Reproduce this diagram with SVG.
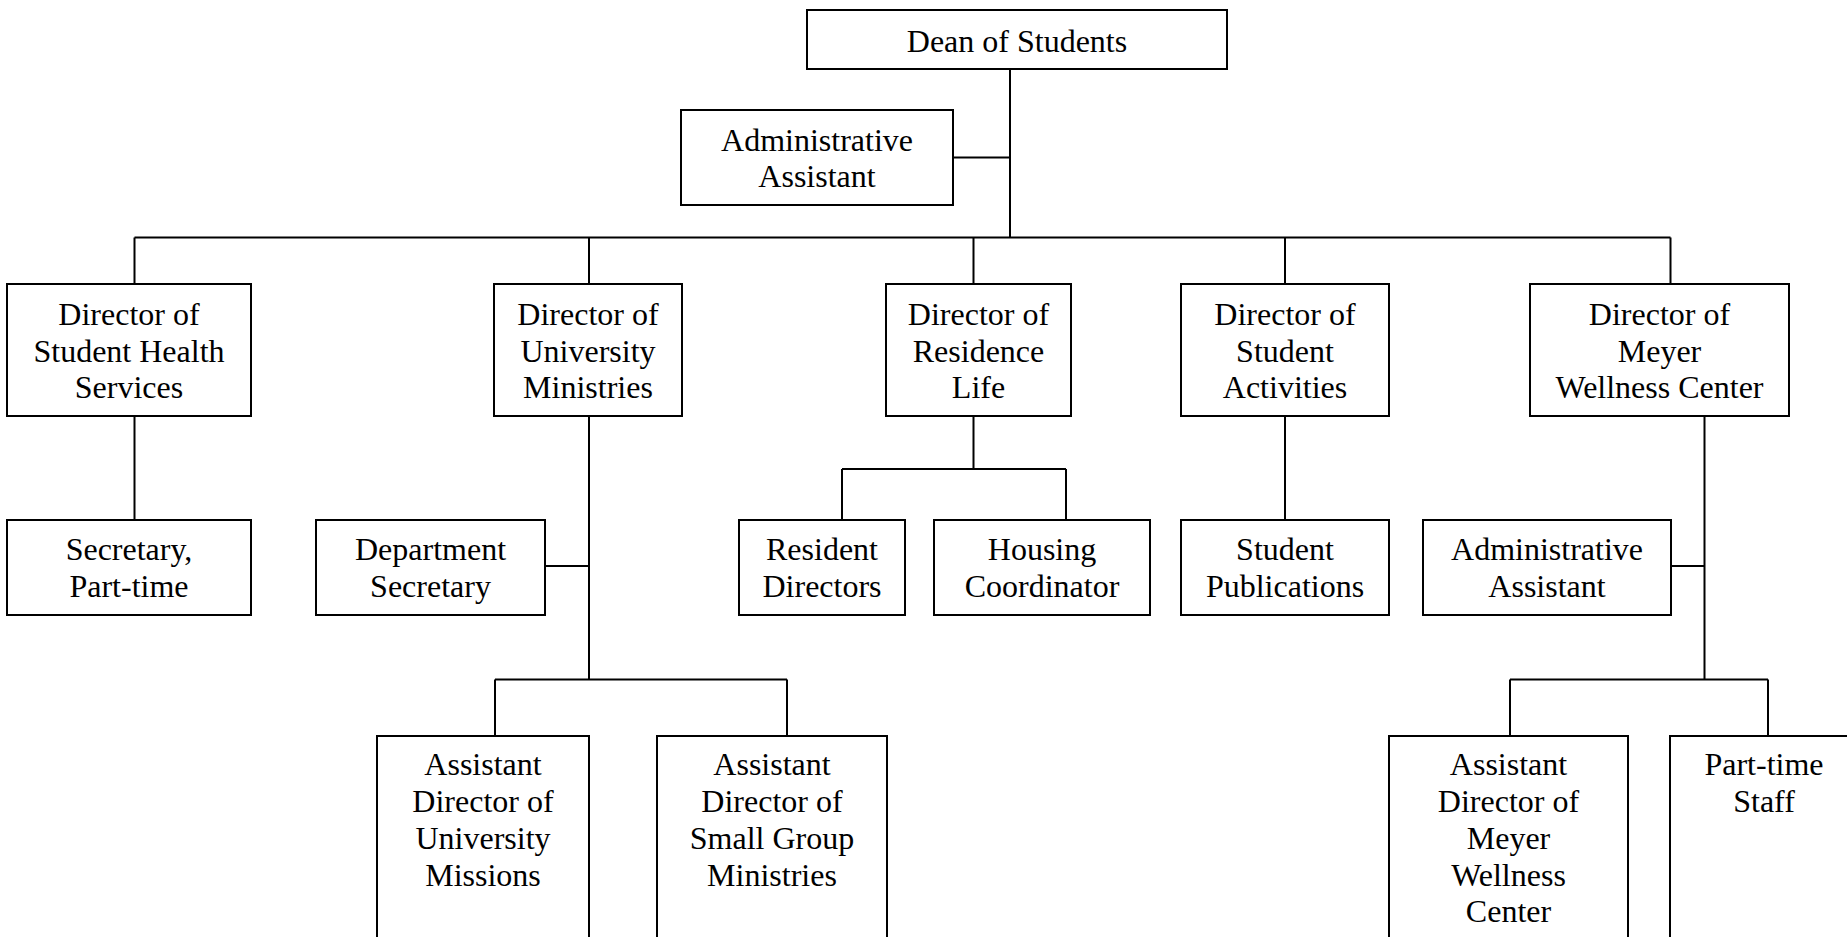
<svg xmlns="http://www.w3.org/2000/svg" width="1847" height="937" viewBox="0 0 1847 937">
<style>
.box{fill:#fff;stroke:#000;stroke-width:2}
.ln{fill:none;stroke:#000;stroke-width:2}
text{font-family:"Liberation Serif","Times New Roman",serif;font-size:32px;fill:#000;text-anchor:middle}
</style>
<rect width="1847" height="937" fill="#fff"/>
<g id="connectors">
<path class="ln" d="M1010,69 V237.5 M953,157.5 H1010 M134.5,237.5 H1670.5 M134.5,237.5 V284 M589,237.5 V284 M973.5,237.5 V284 M1285,237.5 V284 M1670.5,237.5 V284"/>
<path class="ln" d="M134.5,416 V520"/>
<path class="ln" d="M589,416 V679.5 M545,566 H589 M495,679.5 H787 M495,679.5 V736 M787,679.5 V736"/>
<path class="ln" d="M973.5,416 V469 M842,469 H1066 M842,469 V520 M1066,469 V520"/>
<path class="ln" d="M1285,416 V520"/>
<path class="ln" d="M1704.5,416 V679.5 M1671,566 H1704.5 M1510,679.5 H1768 M1510,679.5 V736 M1768,679.5 V736"/>
</g>
<g id="dean"><rect class="box" x="807" y="10" width="420" height="59"/><text x="1017" y="52">Dean of Students</text></g>
<g id="admin-assistant"><rect class="box" x="681" y="110" width="272" height="95"/><text x="817" y="151">Administrative</text><text x="817" y="187">Assistant</text></g>
<g id="dir-health"><rect class="box" x="7" y="284" width="244" height="132"/><text x="129" y="325">Director of</text><text x="129" y="361.5">Student Health</text><text x="129" y="398">Services</text></g>
<g id="dir-ministries"><rect class="box" x="494" y="284" width="188" height="132"/><text x="588" y="325">Director of</text><text x="588" y="361.5">University</text><text x="588" y="398">Ministries</text></g>
<g id="dir-residence"><rect class="box" x="886" y="284" width="185" height="132"/><text x="978.5" y="325">Director of</text><text x="978.5" y="361.5">Residence</text><text x="978.5" y="398">Life</text></g>
<g id="dir-activities"><rect class="box" x="1181" y="284" width="208" height="132"/><text x="1285" y="325">Director of</text><text x="1285" y="361.5">Student</text><text x="1285" y="398">Activities</text></g>
<g id="dir-meyer"><rect class="box" x="1530" y="284" width="259" height="132"/><text x="1659.5" y="325">Director of</text><text x="1659.5" y="361.5">Meyer</text><text x="1659.5" y="398">Wellness Center</text></g>
<g id="secretary-pt"><rect class="box" x="7" y="520" width="244" height="95"/><text x="129" y="560">Secretary,</text><text x="129" y="596.5">Part-time</text></g>
<g id="dept-secretary"><rect class="box" x="316" y="520" width="229" height="95"/><text x="430.5" y="560">Department</text><text x="430.5" y="596.5">Secretary</text></g>
<g id="resident-directors"><rect class="box" x="739" y="520" width="166" height="95"/><text x="822" y="560">Resident</text><text x="822" y="596.5">Directors</text></g>
<g id="housing-coordinator"><rect class="box" x="934" y="520" width="216" height="95"/><text x="1042" y="560">Housing</text><text x="1042" y="596.5">Coordinator</text></g>
<g id="student-publications"><rect class="box" x="1181" y="520" width="208" height="95"/><text x="1285" y="560">Student</text><text x="1285" y="596.5">Publications</text></g>
<g id="admin-assistant-meyer"><rect class="box" x="1423" y="520" width="248" height="95"/><text x="1547" y="560">Administrative</text><text x="1547" y="596.5">Assistant</text></g>
<g id="asst-missions"><rect class="box" x="377" y="736" width="212" height="220"/><text x="483" y="775">Assistant</text><text x="483" y="812">Director of</text><text x="483" y="849">University</text><text x="483" y="885.5">Missions</text></g>
<g id="asst-small-group"><rect class="box" x="657" y="736" width="230" height="220"/><text x="772" y="775">Assistant</text><text x="772" y="812">Director of</text><text x="772" y="849">Small Group</text><text x="772" y="885.5">Ministries</text></g>
<g id="asst-meyer"><rect class="box" x="1389" y="736" width="239" height="220"/><text x="1508.5" y="775">Assistant</text><text x="1508.5" y="812">Director of</text><text x="1508.5" y="849">Meyer</text><text x="1508.5" y="885.5">Wellness</text><text x="1508.5" y="922">Center</text></g>
<g id="part-time-staff"><rect class="box" x="1670" y="736" width="188" height="220"/><text x="1764" y="775">Part-time</text><text x="1764" y="812">Staff</text></g>
</svg>
